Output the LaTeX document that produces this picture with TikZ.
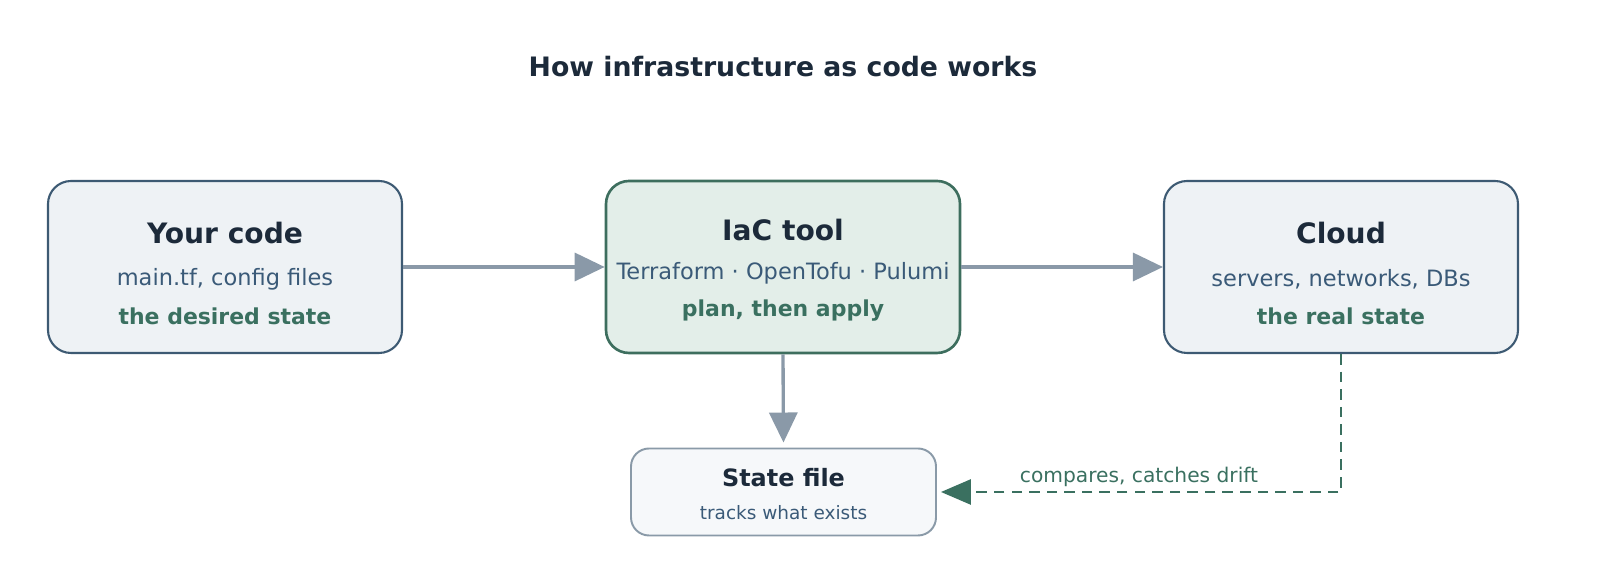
\documentclass[tikz,border=0pt]{standalone}
\usepackage{fontspec}
\setmainfont{DejaVu Sans}
\usetikzlibrary{positioning,arrows.meta}
\definecolor{ink}{HTML}{1C2A3A}
\definecolor{slate}{HTML}{3A5A78}
\definecolor{moss}{HTML}{3A7060}
\definecolor{codeline}{HTML}{3D5A73}
\definecolor{codefill}{HTML}{EEF2F5}
\definecolor{toolline}{HTML}{3D6E5E}
\definecolor{toolfill}{HTML}{E3EEE9}
\definecolor{stateline}{HTML}{8A9AA8}
\definecolor{statefill}{HTML}{F6F8FA}
\definecolor{flow}{HTML}{8A99A8}
\tikzset{
  box/.style={rectangle, rounded corners=0.46cm, draw=codeline, fill=codefill, line width=1.2pt,
              minimum width=7.08cm, minimum height=3.44cm},
  toolbox/.style={box, draw=toolline, fill=toolfill, line width=1.5pt},
  statebox/.style={rectangle, rounded corners=0.36cm, draw=stateline, fill=statefill, line width=1.1pt,
                   minimum width=6.1cm, minimum height=1.74cm},
  head/.style={font=\bfseries\fontsize{16}{19}\selectfont, text=ink},
  sub/.style={font=\fontsize{12.8}{15}\selectfont, text=slate},
  note/.style={font=\bfseries\fontsize{12.5}{15}\selectfont, text=moss},
  fwd/.style={draw=flow, line width=1.9pt, -{Triangle[length=0.6cm,width=0.56cm]}},
  drift/.style={draw=moss, line width=1.6pt, dashed, dash pattern=on 6pt off 4pt,
                -{Triangle[length=0.6cm,width=0.5cm]}},
}
\begin{document}
\begin{tikzpicture}
  \useasboundingbox (0,0) rectangle (32,11.7);
  \node[font=\bfseries\fontsize{15.2}{18}\selectfont, text=ink] (title) at (15.66,10.36) {How infrastructure as code works};

  \node[box] (code) at (4.5,6.36) {};
  \node[toolbox] (tool) at (15.66,6.36) {};
  \node[box] (cloud) at (26.82,6.36) {};
  \node[statebox] (state) at (15.67,1.86) {};

  % box texts
  \node[head] at ([yshift=0.68cm]code.center) {Your code};
  \node[sub] at ([yshift=-0.24cm]code.center) {main.tf, config files};
  \node[note] at ([yshift=-0.98cm]code.center) {the desired state};

  \node[head] at ([yshift=0.74cm]tool.center) {IaC tool};
  \node[sub] at ([yshift=-0.12cm]tool.center) {Terraform · OpenTofu · Pulumi};
  \node[note] at ([yshift=-0.88cm]tool.center) {plan, then apply};

  \node[head] at ([yshift=0.68cm]cloud.center) {Cloud};
  \node[sub] at ([yshift=-0.24cm]cloud.center) {servers, networks, DBs};
  \node[note] at ([yshift=-0.98cm]cloud.center) {the real state};

  \node[font=\bfseries\fontsize{13.6}{16}\selectfont, text=ink] at ([yshift=0.28cm]state.center) {State file};
  \node[font=\fontsize{10.5}{12}\selectfont, text=slate] at ([yshift=-0.42cm]state.center) {tracks what exists};

  % connectors
  \draw[fwd] (code.east) -- (tool.west);
  \draw[fwd] (tool.east) -- (cloud.west);
  \draw[fwd, shorten >=0.1cm] (tool.south) -- (state.north);
  \draw[drift, shorten >=0.08cm] (cloud.south) |- (state.east)
    node[pos=0.75, above, font=\fontsize{11.5}{13}\selectfont, text=moss, yshift=-1pt] {compares, catches drift};
\end{tikzpicture}
\end{document}
